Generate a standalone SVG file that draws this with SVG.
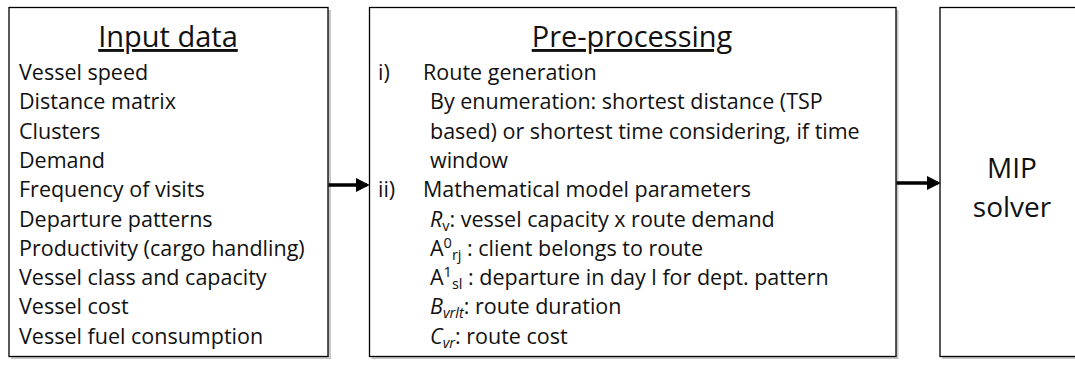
<svg xmlns="http://www.w3.org/2000/svg" width="1075" height="367" viewBox="0 0 1075 367">
<style>
.box{fill:#fff;stroke:#000;stroke-width:1.3}
.shadow{fill:#c8c8c8}
text{font-family:"Open Sans","Noto Sans",sans-serif;fill:#111}
.t{font-size:21.5px}
.title{font-size:29px;text-decoration:underline;text-anchor:middle}
.big{font-size:28px;text-anchor:middle}
.conn{stroke:#000;stroke-width:3.5;fill:none}
.sub{font-size:14.5px}
</style>
<defs>
<marker id="ah" markerWidth="4" markerHeight="4" refX="3.2" refY="2" orient="auto" markerUnits="strokeWidth">
<path d="M0,0 L4,2 L0,4 Z" fill="#000"/>
</marker>
</defs>
<g id="input-data">
<rect class="shadow" x="11" y="10" width="320" height="349"/>
<rect class="box" x="9" y="7.5" width="319" height="349"/>
<text class="title" x="168" y="47">Input data</text>
<text class="t" x="19" y="80">Vessel speed</text>
<text class="t" x="19" y="109.3">Distance matrix</text>
<text class="t" x="19" y="138.6">Clusters</text>
<text class="t" x="19" y="167.9">Demand</text>
<text class="t" x="19" y="197.2">Frequency of visits</text>
<text class="t" x="19" y="226.5">Departure patterns</text>
<text class="t" x="19" y="255.8">Productivity (cargo handling)</text>
<text class="t" x="19" y="285.1">Vessel class and capacity</text>
<text class="t" x="19" y="314.4">Vessel cost</text>
<text class="t" x="19" y="343.7">Vessel fuel consumption</text>
</g>
<g id="pre-processing">
<rect class="shadow" x="371.5" y="10" width="527" height="349"/>
<rect class="box" x="369.5" y="7.5" width="526.5" height="349"/>
<text class="title" x="632" y="47">Pre-processing</text>
<text class="t" x="378" y="80">i)</text>
<text class="t" x="423" y="80">Route generation</text>
<text class="t" x="430" y="109.3">By enumeration: shortest distance (TSP</text>
<text class="t" x="430" y="138.6">based) or shortest time considering, if time</text>
<text class="t" x="430" y="167.9">window</text>
<text class="t" x="378" y="197.2">ii)</text>
<text class="t" x="423" y="197.2">Mathematical model parameters</text>
<text class="t" x="430" y="226.5"><tspan font-style="italic">R</tspan><tspan class="sub" dy="4">v</tspan><tspan dy="-4">: vessel capacity x route demand</tspan></text>
<text class="t" x="430" y="255.8">A<tspan class="sub" dy="-8">0</tspan><tspan class="sub" dy="12">rj</tspan><tspan dy="-4"> : client belongs to route</tspan></text>
<text class="t" x="430" y="285.1">A<tspan class="sub" dy="-8">1</tspan><tspan class="sub" dy="12">sl</tspan><tspan dy="-4"> : departure in day l for dept. pattern</tspan></text>
<text class="t" x="430" y="314.4"><tspan font-style="italic">B</tspan><tspan class="sub" font-style="italic" dy="4">vrlt</tspan><tspan dy="-4">: route duration</tspan></text>
<text class="t" x="430" y="343.7"><tspan font-style="italic">C</tspan><tspan class="sub" font-style="italic" dy="4">vr</tspan><tspan dy="-4">: route cost</tspan></text>
</g>
<g id="mip-solver">
<rect class="shadow" x="942" y="10" width="150" height="349"/>
<rect class="box" x="940" y="7.5" width="150" height="349"/>
<text class="big" x="1012" y="178">MIP</text>
<text class="big" x="1012" y="217">solver</text>
</g>
<g id="connectors">
<line class="conn" x1="328.5" y1="185" x2="367" y2="185" marker-end="url(#ah)"/>
<line class="conn" x1="896.5" y1="183" x2="938" y2="183" marker-end="url(#ah)"/>
</g>
</svg>
